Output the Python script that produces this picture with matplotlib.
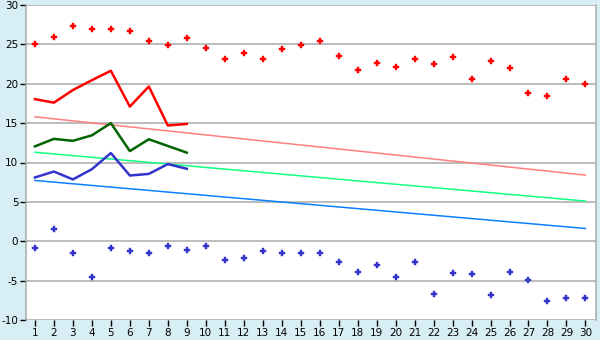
import matplotlib
matplotlib.use('Agg')
import matplotlib.pyplot as plt

plt.rcParams['axes.unicode_minus'] = False

# day of month
days = list(range(1, 31))

# record highs / lows per day (diamonds)
record_high = [25.0, 26.0, 27.3, 27.0, 27.0, 26.65, 25.4, 24.9, 25.75, 24.5,
               23.1, 23.85, 23.1, 24.35, 24.9, 25.4, 23.5, 21.7, 22.6, 22.1,
               23.1, 22.45, 23.35, 20.55, 22.95, 21.95, 18.8, 18.5, 20.55, 20.0]
record_low = [-0.8, 1.5, -1.55, -4.6, -0.8, -1.3, -1.55, -0.55, -1.05, -0.55,
              -2.33, -2.07, -1.18, -1.55, -1.55, -1.55, -2.58, -3.85, -2.96, -4.49,
              -2.58, -6.65, -3.98, -4.1, -6.77, -3.85, -4.87, -7.54, -7.16, -7.16]

# current month so far (days 1-9)
cur_days = days[:9]
cur_max = [18.05, 17.6, 19.2, 20.45, 21.65, 17.1, 19.65, 14.7, 14.9]
cur_mean = [12.05, 13.0, 12.75, 13.45, 15.0, 11.45, 12.95, 12.1, 11.25]
cur_min = [8.1, 8.85, 7.85, 9.15, 11.2, 8.35, 8.55, 9.8, 9.2]

# long-term average trend lines (start / end of month)
trend_days = [1, 30]
avg_max = [15.8, 8.4]
avg_mean = [11.3, 5.1]
avg_min = [7.72, 1.62]

bg = '#d8eef5'
fig = plt.figure(figsize=(6, 3.4), dpi=100, facecolor=bg)
ax = fig.add_axes([26 / 600, 1 - 320 / 340, 569.5 / 600, 315 / 340])
ax.set_facecolor('white')

ax.plot(trend_days, avg_max, color='#ff8080', lw=1.1)
ax.plot(trend_days, avg_mean, color='#10ff80', lw=1.1)
ax.plot(trend_days, avg_min, color='#0a80ff', lw=1.1)

ax.plot(cur_days, cur_max, color='#ff0000', lw=1.8)
ax.plot(cur_days, cur_mean, color='#006400', lw=1.8)
ax.plot(cur_days, cur_min, color='#3333cc', lw=1.8)

ax.plot(days, record_high, ls='none', marker='P', ms=5, color='#ff0000', mew=0.3)
ax.plot(days, record_low, ls='none', marker='P', ms=5, color='#3333cc', mew=0.3)

ax.set_xlim(0.53, 30.53)
ax.set_ylim(-10, 30)
ax.set_xticks(days)
ax.set_yticks(range(-10, 31, 5))
ax.yaxis.grid(True, color='#aaaaaa', lw=1.1)
ax.set_axisbelow(True)
for s in ['top', 'bottom']:
    ax.spines[s].set_visible(False)
for s in ['left', 'right']:
    ax.spines[s].set_color('#aaaaaa')
    ax.spines[s].set_linewidth(1.1)
ax.tick_params(axis='both', length=4, width=1, color='black', labelsize=7.5, pad=1.5)
ax.tick_params(axis='x', pad=2)

fig.savefig('out.png', dpi=100, facecolor=bg)
